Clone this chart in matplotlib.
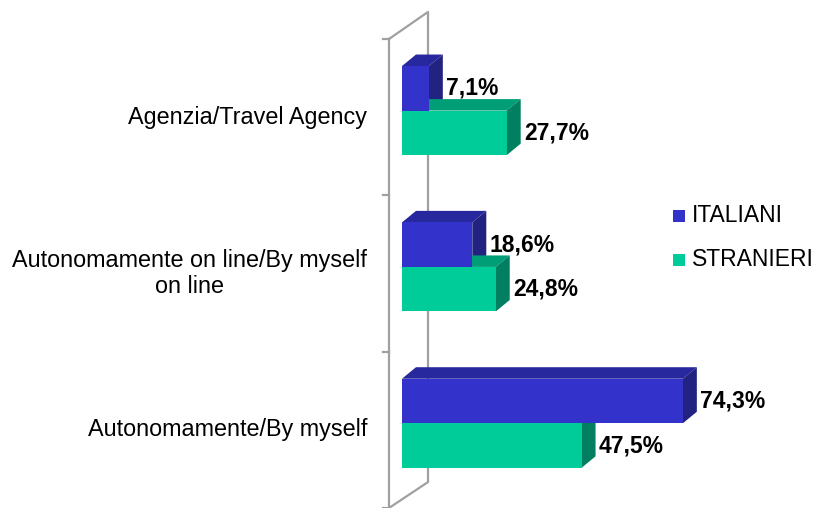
import numpy as np
import matplotlib.pyplot as plt
from matplotlib.patches import Polygon, Rectangle

# === Dati ===
categorie = ["Autonomamente/By myself",
             "Autonomamente on line/By myself\non line",
             "Agenzia/Travel Agency"]
italiani = [74.3, 18.6, 7.1]
stranieri = [47.5, 24.8, 27.7]
serie = ["ITALIANI", "STRANIERI"]

# === Colori (fronte, sopra, lato) ===
col_ita = ("#3333cc", "#28289e", "#222280")
col_str = ("#00cc99", "#009e77", "#008060")

plt.rcParams['font.family'] = ['Liberation Sans', 'DejaVu Sans']

fig = plt.figure(figsize=(8.18, 5.08), dpi=100)
ax = fig.add_axes([389 / 818, 0, 429 / 818, 469 / 508])
ax.set_xlim(-3.44, 110.05)
ax.set_ylim(-0.5, 2.5)
ax.axis('off')

# profondità 3D in unità dati
dx, dy = 3.7, 0.0736
h, off = 0.285, 0.042


def barra3d(y0, val, cols, z):
    front, top, side = cols
    ax.add_patch(Polygon([(0, y0 + h), (dx, y0 + h + dy), (val + dx, y0 + h + dy), (val, y0 + h)],
                         closed=True, facecolor=top, edgecolor='none', zorder=z))
    ax.add_patch(Polygon([(val, y0), (val + dx, y0 + dy), (val + dx, y0 + h + dy), (val, y0 + h)],
                         closed=True, facecolor=side, edgecolor='none', zorder=z))
    ax.add_patch(Rectangle((0, y0), val, h, facecolor=front, edgecolor='none', zorder=5))


y = np.arange(len(categorie))
for i in y:
    barra3d(i + off, italiani[i], col_ita, 1)
    barra3d(i + off - h, stranieri[i], col_str, 2)
    ax.text(italiani[i] + dx + 0.9, i + off + h / 2, f"{italiani[i]:.1f}%".replace('.', ','),
            ha='left', va='center', fontsize=16.5, fontweight='bold', zorder=6)
    ax.text(stranieri[i] + dx + 0.9, i + off - h / 2, f"{stranieri[i]:.1f}%".replace('.', ','),
            ha='left', va='center', fontsize=16.5, fontweight='bold', zorder=6)
    ax.text(-9.26, i, categorie[i], ha='right', va='center', multialignment='center',
            fontsize=16.8, clip_on=False)

# === Parete ===
wx0, wx1 = -3.44, 6.88
wall_col = '#a0a0a0'
ax.plot([wx0, wx0, wx1, wx1, wx0], [2.5, -0.5, -0.334, 2.673, 2.5],
        color=wall_col, lw=1.6, clip_on=False, zorder=0)
for t in [2.5, 1.5, 0.5, -0.5]:
    ax.plot([wx0 - 1.6, wx0], [t, t], color=wall_col, lw=1.6, clip_on=False, zorder=0)

# === Legenda ===
for k, (nome, c) in enumerate(zip(serie, [col_ita[0], col_str[0]])):
    fy = 1 - (216 + 44 * k) / 508
    fig.patches.append(Rectangle((673 / 818, fy - 6 / 508), 12 / 818, 12 / 508,
                                 facecolor=c, edgecolor='none', transform=fig.transFigure))
    fig.text(692 / 818, fy, nome, ha='left', va='center', fontsize=16.5)

fig.savefig("out.png", dpi=100)
